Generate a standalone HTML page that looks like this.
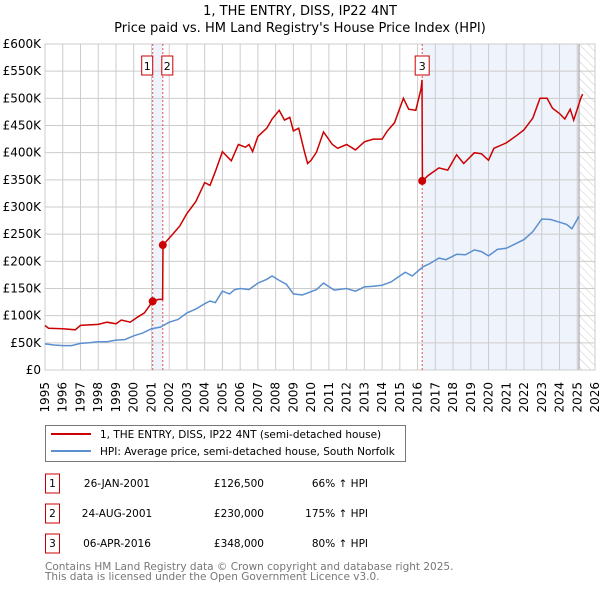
<!DOCTYPE html>
<html><head><meta charset="utf-8">
<style>
body{margin:0;background:#fff;font-family:"DejaVu Sans","Liberation Sans",sans-serif;}
svg text{font-family:"DejaVu Sans","Liberation Sans",sans-serif;}
</style></head>
<body>
<svg id="chart" width="600" height="590" viewBox="0 0 600 590" xmlns="http://www.w3.org/2000/svg">
<defs>
<pattern id="hatch" width="6" height="6" patternUnits="userSpaceOnUse" patternTransform="rotate(-45)">
<line x1="0" y1="0" x2="0" y2="6" stroke="#ccc" stroke-width="1"/>
</pattern>
</defs>
<text x="300" y="15" font-size="13" text-anchor="middle">1, THE ENTRY, DISS, IP22 4NT</text>
<text x="300" y="32" font-size="13" text-anchor="middle">Price paid vs. HM Land Registry's House Price Index (HPI)</text>
<g id="plot"></g>
<g>
<rect x="45.5" y="425.5" width="360" height="36" fill="#fff" stroke="#777"/>
<line x1="51" y1="434" x2="91" y2="434" stroke="#cc0000" stroke-width="2"/>
<text x="100" y="438" font-size="10.5">1, THE ENTRY, DISS, IP22 4NT (semi-detached house)</text>
<line x1="51" y1="451" x2="91" y2="451" stroke="#5b8fd0" stroke-width="2"/>
<text x="100" y="455" font-size="10.5">HPI: Average price, semi-detached house, South Norfolk</text>
</g>
<g id="table" font-size="10.5"></g>
<text x="45" y="570" font-size="10.5" fill="#777">Contains HM Land Registry data © Crown copyright and database right 2025.</text>
<text x="45" y="580" font-size="10.5" fill="#777">This data is licensed under the Open Government Licence v3.0.</text>
</svg>
<script>
const yTicks=[0,50,100,150,200,250,300,350,400,450,500,550,600];
const xYears=[1995,1996,1997,1998,1999,2000,2001,2002,2003,2004,2005,2006,2007,2008,2009,2010,2011,2012,2013,2014,2015,2016,2017,2018,2019,2020,2021,2022,2023,2024,2025,2026];
const hpiT=[1995,1995.5,1996,1996.5,1997,1997.5,1998,1998.5,1999,1999.5,2000,2000.5,2001,2001.5,2002,2002.5,2003,2003.5,2004,2004.3,2004.6,2005,2005.4,2005.7,2006,2006.5,2007,2007.5,2007.8,2008.2,2008.6,2009,2009.5,2009.9,2010.3,2010.7,2011.3,2012,2012.5,2013,2013.5,2014,2014.5,2015.3,2015.7,2016.3,2016.7,2017.2,2017.6,2018.2,2018.7,2019.2,2019.6,2020,2020.5,2021,2021.5,2022,2022.5,2023,2023.5,2024,2024.4,2024.7,2025.1];
const hpiV=[48,46,45,45,49,50,52,52,55,56,63,68,76,79,88,93,105,112,122,127,124,145,140,148,150,148,160,167,173,165,158,140,138,143,148,160,147,150,145,153,154,156,162,180,173,190,196,206,203,213,212,221,218,210,222,224,232,240,255,278,277,272,268,260,283];
const redT=[1995,1995.2,1996,1996.7,1997,1998,1998.5,1999,1999.3,1999.8,2000.2,2000.6,2001.07,2001.4,2001.63,2001.65,2002.2,2002.6,2003,2003.5,2004,2004.3,2004.6,2005,2005.5,2005.9,2006.3,2006.5,2006.7,2007,2007.5,2007.8,2008.2,2008.5,2008.8,2009,2009.3,2009.6,2009.8,2010,2010.3,2010.7,2011.2,2011.5,2012,2012.5,2013,2013.5,2014,2014.3,2014.7,2015.2,2015.5,2015.9,2016.2,2016.25,2016.27,2016.6,2017.2,2017.7,2018.2,2018.6,2019.2,2019.6,2020,2020.3,2021,2021.6,2022,2022.5,2022.9,2023.3,2023.6,2024,2024.3,2024.6,2024.8,2025.2,2025.3];
const redV=[82,77,76,74,82,84,88,85,92,88,97,105,126.5,130,130,230,250,265,288,310,345,340,365,402,385,415,410,415,402,430,445,462,478,460,465,440,445,405,380,386,401,438,415,408,415,405,420,425,425,440,455,500,480,478,518,534,348,358,372,368,396,380,400,398,386,408,418,432,442,464,500,500,482,472,462,480,460,500,508];
const saleT=[2001.07,2001.64,2016.26];
const saleV=[126.5,230,348];
const saleLabels=["1","2","3"];
const saleDates=["26-JAN-2001","24-AUG-2001","06-APR-2016"];
const salePrices=["£126,500","£230,000","£348,000"];
const saleHpi=["66% ↑ HPI","175% ↑ HPI","80% ↑ HPI"];
const dataEnd=2025.1;

const X0=45,X1=595,Y0=370,Y1=44;
const xs=t=>X0+(t-1995)/(2026-1995)*(X1-X0);
const ys=v=>Y0-(v/600)*(Y0-Y1);
const NS="http://www.w3.org/2000/svg";
const plot=document.getElementById('plot');
function mk(tag,attrs,parent){const e=document.createElementNS(NS,tag);for(const k in attrs)e.setAttribute(k,attrs[k]);(parent||plot).appendChild(e);return e;}

let r=mk('rect',{x:xs(saleT[0]),y:Y1,width:xs(saleT[1])-xs(saleT[0]),height:Y0-Y1,fill:'#eef3fc'});


r=mk('rect',{x:xs(saleT[2]),y:Y1,width:xs(dataEnd)-xs(saleT[2]),height:Y0-Y1,fill:'#eef3fc'});


r=mk('rect',{x:xs(dataEnd),y:Y1,width:X1-xs(dataEnd),height:Y0-Y1,fill:'url(#hatch)'});



const grid=mk('g',{stroke:'#cccccc','stroke-width':1});


yTicks.forEach(v=>{mk('line',{x1:X0,x2:X1,y1:ys(v),y2:ys(v)},grid);
 const t=mk('text',{x:X0-4,y:ys(v)+4,'font-size':12,'text-anchor':'end',fill:'#000',stroke:'none'});
 t.textContent=v===0?'£0':'£'+v+'K';
 
 });
xYears.forEach(y=>{mk('line',{x1:xs(y),x2:xs(y),y1:Y1,y2:Y0},grid);
 const t=mk('text',{transform:`translate(${xs(y)+4},${Y0+12}) rotate(-90)`,'font-size':12,'text-anchor':'end',fill:'#000',stroke:'none'});
 t.textContent=y;
 
 });
mk('line',{x1:xs(dataEnd),x2:xs(dataEnd),y1:Y1,y2:Y0,stroke:'#999','stroke-width':1});
mk('rect',{x:X0,y:Y1,width:X1-X0,height:Y0-Y1,fill:'none',stroke:'#cccccc'});

saleT.forEach((t,i)=>{const l=mk('line',{x1:xs(t),x2:xs(t),y1:Y1,y2:Y0,stroke:'#e05050','stroke-width':1,'stroke-dasharray':'2,2'});
 
 });

function path(T,V){return T.map((t,i)=>(i?'L':'M')+xs(t).toFixed(1)+','+ys(V[i]).toFixed(1)).join('');}
let p=mk('path',{d:path(hpiT,hpiV),fill:'none',stroke:'#5b8fd0','stroke-width':1.5});


p=mk('path',{d:path(redT,redV),fill:'none',stroke:'#cc0000','stroke-width':1.5});



saleT.forEach((t,i)=>{const c=mk('circle',{cx:xs(t),cy:ys(saleV[i]),r:4,fill:'#cc0000'});
 
 
 let bx=xs(t)-11;
 if(i===1)bx=xs(t)-1; if(i===2)bx=xs(t)-7;
 const g=mk('g',{});
 
 
 mk('rect',{x:bx,y:56,width:i===2?14:11,height:19,fill:'#fff',stroke:'#cc0000'},g);
 const tx=mk('text',{x:bx+(i===2?7:5.5),y:70,'font-size':11,'text-anchor':'middle'},g);
 tx.textContent=saleLabels[i];});

const tb=document.getElementById('table');
const rowsY=[483,513,543];
saleLabels.forEach((s,i)=>{const y=rowsY[i];
 const g=mk('g',{},tb);
 
 
 mk('rect',{x:45.5,y:y-9,width:14,height:19,fill:'#fff',stroke:'#cc0000'},g);
 let t=mk('text',{x:52.5,y:y+4,'text-anchor':'middle'},g);t.textContent=s;
 t=mk('text',{x:117,y:y+4,'text-anchor':'middle'},g);t.textContent=saleDates[i];
 t=mk('text',{x:264,y:y+4,'text-anchor':'end'},g);t.textContent=salePrices[i];
 t=mk('text',{x:368,y:y+4,'text-anchor':'end'},g);t.textContent=saleHpi[i];});
</script>
</body></html>
